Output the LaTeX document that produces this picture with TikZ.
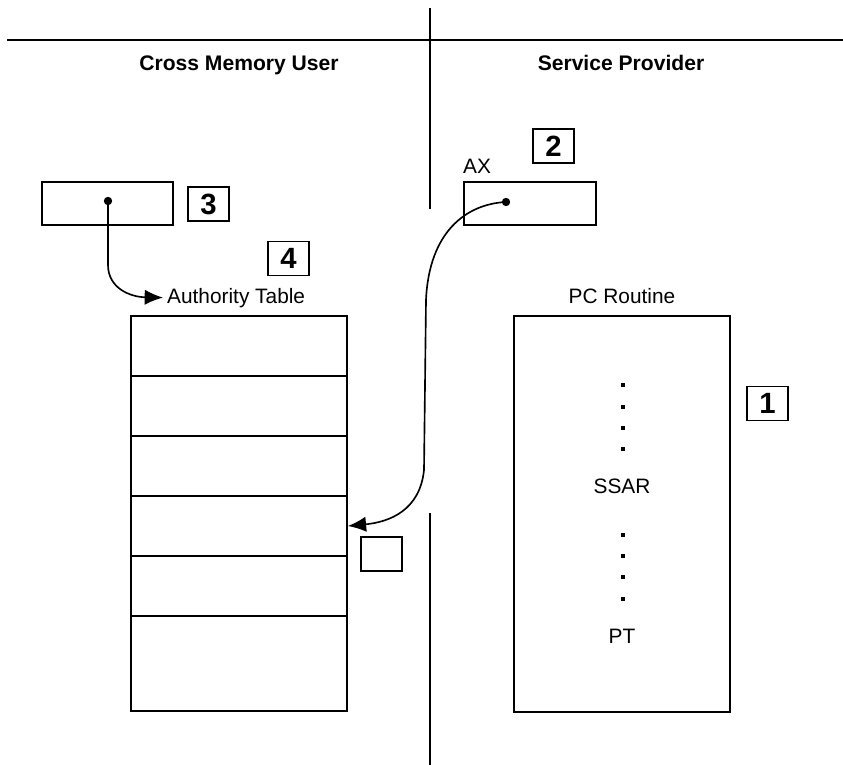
\documentclass[tikz,border=0pt]{standalone}
\usepackage{fontspec}
\setmainfont{Liberation Sans}
\usetikzlibrary{arrows.meta,positioning}
\tikzset{>={Latex[length=5.5mm,width=4.6mm]}}

\begin{document}
\begin{tikzpicture}[x=0.03cm, y=-0.03cm, node distance=1.8cm,
    every node/.style={font=\fontsize{17.8}{21}\selectfont},
    box/.style={draw, line width=1.3pt, inner sep=0},
    row/.style={box, minimum width=6.48cm, minimum height=1.8cm},
    tag/.style={box, minimum width=1.23cm, minimum height=1.02cm, font=\fontsize{25}{30}\selectfont\bfseries},
    head/.style={anchor=base, font=\fontsize{18}{22}\selectfont\bfseries},
    ptr/.style={circle, fill, inner sep=0, minimum size=2.5mm},
    pcdot/.style={rectangle, fill, inner sep=0, minimum size=1mm}]

      \useasboundingbox (0,0) rectangle (843,765);

      % dividers
      \draw[line width=1.5pt] (7,40) -- (843,40);
      \draw[line width=1.5pt] (430,8) -- (430,209);
      \draw[line width=1.5pt] (430,513) -- (430,765);

      \node[head] (user) at (239,71) {Cross Memory User};
      \node[head] (prov) at (621,71) {Service Provider};

      % user side
      \node[box, minimum width=3.93cm, minimum height=1.29cm] (xmreg) at (107.5,203.5) {};
      \node[ptr] (xmdot) at (108,201) {};
      \node[tag] (t3) at (208.5,204) {3};
      \node[tag] (t4) at (288.5,258.5) {4};
      \node[anchor=base west] (attitle) at (163,303) {Authority Table};
      \node[row] (at1) at (239,346) {};
      \node[row] (at2) [below of=at1] {};
      \node[row] (at3) [below of=at2] {};
      \node[row] (at4) [below of=at3] {};
      \node[row] (at5) [below of=at4] {};
      \node[row, minimum height=2.85cm] (at6) at (239,663.5) {};
      \node[box, minimum width=1.23cm, minimum height=1.02cm] (atx) at (381.5,554) {};

      % provider side
      \node[anchor=base west] (axtitle) at (459,174) {AX};
      \node[box, minimum width=3.96cm, minimum height=1.29cm] (axreg) at (530,203.5) {};
      \node[ptr] (axdot) at (506,202) {};
      \node[tag] (t2) at (553.5,146) {2};
      \node[anchor=base] (pctitle) at (622,303) {PC Routine};
      \node[box, minimum width=6.48cm, minimum height=11.88cm] (pc) at (622,514) {};
      \foreach \y in {385,407,428,449,535,556,577,599}
        \node[pcdot] (d\y) at (623,\y) {};
      \node[anchor=base] (ssar) at (622,493) {SSAR};
      \node[anchor=base] (pt) at (622,643) {PT};
      \node[tag] (t1) at (767.5,403.5) {1};

      \coordinate (xmbend) at (108,265);
      \coordinate (axtop) at (426,300);
      \coordinate (axbot) at (424,470);

      \draw[->, line width=1.4pt] (xmdot.center) -- (xmbend)
            .. controls (108,288) and (130,297) .. (attitle.west);
      \draw[->, line width=1.4pt] (axdot.center) .. controls (466,204) and (429,232) .. (axtop)
            -- (axbot) .. controls (420,510) and (390,522) .. (at4.east);

\end{tikzpicture}
\end{document}
